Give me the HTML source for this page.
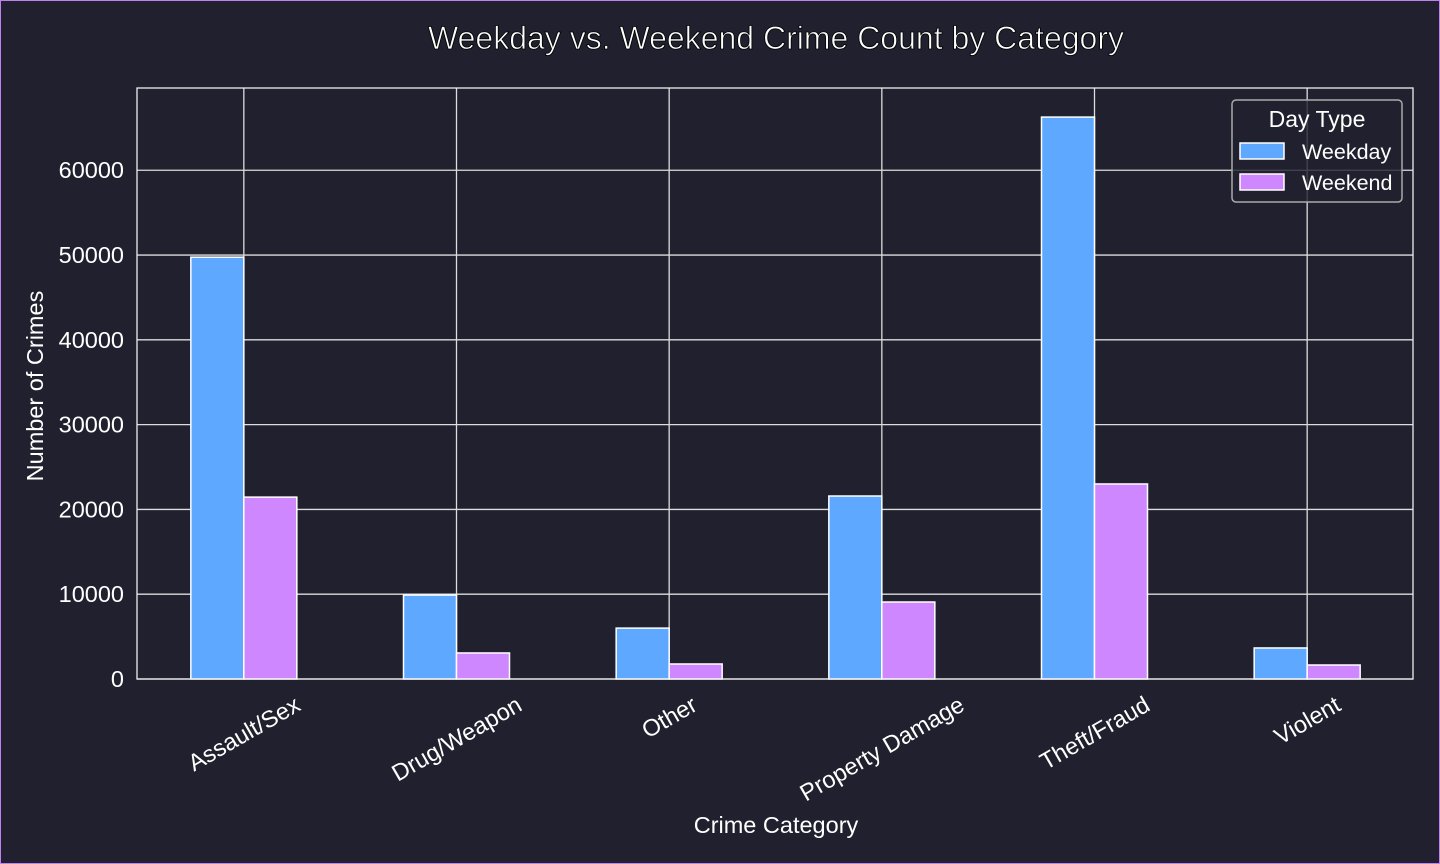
<!DOCTYPE html>
<html><head><meta charset="utf-8"><style>
html,body{margin:0;padding:0;background:#20202e;}
svg{display:block;font-family:"Liberation Sans",sans-serif;}
</style></head><body>
<svg id="chart" width="1440" height="864" viewBox="0 0 1440 864">
<rect x="0.5" y="0.5" width="1439" height="863" fill="#20202e" stroke="#c080f0"/>
<text x="776" y="49" text-anchor="middle" font-size="32" fill="#fff" stroke="#000" stroke-width="0.8">Weekday vs. Weekend Crime Count by Category</text>
<g id="grid"></g>
<g id="bars"></g>
<g id="axes"></g>
<text x="776" y="833" text-anchor="middle" font-size="23.5" fill="#fff">Crime Category</text>
<text transform="translate(43,386) rotate(-90)" text-anchor="middle" font-size="23.5" fill="#fff">Number of Crimes</text>
<g>
<rect x="1232" y="100" width="170" height="102" rx="4" fill="#20202e" fill-opacity="0.8" stroke="#aaa" stroke-width="1.5"/>
<text x="1317" y="127" text-anchor="middle" font-size="23" fill="#fff">Day Type</text>
<rect x="1240" y="143" width="44" height="16" fill="#5ea8ff" stroke="#fff" stroke-width="1.5"/>
<text x="1302" y="159" font-size="21.5" fill="#fff">Weekday</text>
<rect x="1240" y="174" width="44" height="16" fill="#cf87ff" stroke="#fff" stroke-width="1.5"/>
<text x="1302" y="190" font-size="21.5" fill="#fff">Weekend</text>
</g>
</svg>
<script>
const categories=["Assault/Sex","Drug/Weapon","Other","Property Damage","Theft/Fraud","Violent"];
const weekday=[49750,9900,6000,21580,66270,3660];
const weekend=[21450,3070,1770,9080,23000,1650];
const yTicks=[0,10000,20000,30000,40000,50000,60000];
const NS="http://www.w3.org/2000/svg";
const L=137,R=1413,T=88,B=679,yMax=69700;
const y=v=>B-(v/yMax)*(B-T);
const step=(R-L)/categories.length;
const xc=i=>L+step*(i+0.5)+0.5;
const bw=53;
function mk(tag,attrs,parent){const e=document.createElementNS(NS,tag);for(const k in attrs)e.setAttribute(k,attrs[k]);document.getElementById(parent).appendChild(e);return e;}
yTicks.forEach(t=>{
 const l=mk('line',{x1:L,x2:R,y1:y(t),y2:y(t),stroke:'#ddd','stroke-width':1.3},'grid');
 
 
 const tx=mk('text',{x:124,y:y(t)+8,'text-anchor':'end','font-size':23.5,fill:'#fff'},'axes');
 tx.textContent=t;
 
 
});
const FS=23.6;
categories.forEach((c,i)=>{
 const l=mk('line',{x1:xc(i),x2:xc(i),y1:T,y2:B,stroke:'#ddd','stroke-width':1.3},'grid');
 
 
 const b1=mk('rect',{x:xc(i)-bw,y:y(weekday[i]),width:bw,height:B-y(weekday[i]),fill:'#5ea8ff',stroke:'#fff','stroke-width':1.5},'bars');
 
 
 const b2=mk('rect',{x:xc(i),y:y(weekend[i]),width:bw,height:B-y(weekend[i]),fill:'#cf87ff',stroke:'#fff','stroke-width':1.5},'bars');
 
 
 const tx=mk('text',{'text-anchor':'middle','font-size':FS,fill:'#fff',dy:'0.35em'},'axes');
 tx.textContent=c;
 
 
 const w=tx.getComputedTextLength();
 const h=FS*1.1;
 const cy=691+(w*0.5+h*0.866)/2;
 tx.setAttribute('transform',`translate(${xc(i)},${cy}) rotate(-30)`);
});
const fr=mk('rect',{x:L,y:T,width:R-L,height:B-T,fill:'none',stroke:'#eee','stroke-width':1.3},'axes');


</script>
</body></html>
